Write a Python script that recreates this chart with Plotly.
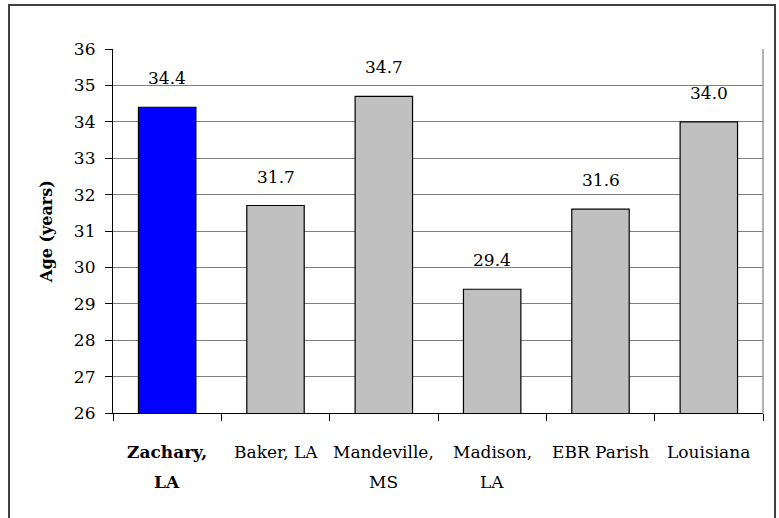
import plotly.graph_objects as go

categories = ["Zachary, LA", "Baker, LA", "Mandeville, MS", "Madison, LA", "EBR Parish", "Louisiana"]
label_line1 = ["<b>Zachary,</b>", "Baker, LA", "Mandeville,", "Madison,", "EBR Parish", "Louisiana"]
label_line2 = ["<b>LA</b>", "", "MS", "LA", "", ""]
ages = [34.4, 31.7, 34.7, 29.4, 31.6, 34.0]
bar_colors = ["#0000FF", "#C0C0C0", "#C0C0C0", "#C0C0C0", "#C0C0C0", "#C0C0C0"]
y_ticks = list(range(26, 37))

FONT = "DejaVu Serif"
FS = 17

fig = go.Figure()
fig.add_trace(go.Bar(
    x=categories, y=ages,
    marker=dict(color=bar_colors, line=dict(color="black", width=1.2)),
    width=0.53, hoverinfo="skip",
))

annotations = []
for c, v in zip(categories, ages):
    annotations.append(dict(x=c, y=v, xref="x", yref="y", text=f"{v:.1f}",
                            showarrow=False, yanchor="bottom", yshift=17,
                            font=dict(family=FONT, size=FS, color="black")))
for c, l1, l2 in zip(categories, label_line1, label_line2):
    annotations.append(dict(x=c, y=0, xref="x", yref="paper", text=l1,
                            showarrow=False, yanchor="middle", yshift=-39,
                            font=dict(family=FONT, size=FS, color="black")))
    if l2:
        annotations.append(dict(x=c, y=0, xref="x", yref="paper", text=l2,
                                showarrow=False, yanchor="middle", yshift=-69,
                                font=dict(family=FONT, size=FS, color="black")))

fig.update_layout(
    width=779, height=518,
    margin=dict(l=113, r=16, t=49, b=105),
    paper_bgcolor="white", plot_bgcolor="white",
    showlegend=False,
    bargap=0.47,
    annotations=annotations,
    font=dict(family=FONT, size=FS, color="black"),
    shapes=[
        dict(type="line", xref="paper", yref="paper", x0=1, x1=1, y0=0, y1=1,
             line=dict(color="#808080", width=1.2)),
        dict(type="rect", xref="paper", yref="paper", x0=-0.16, x1=1.0185,
             y0=-0.3, y1=1.1209, line=dict(color="#404040", width=2)),
    ],
)
fig.update_xaxes(
    showticklabels=False, showline=True, linecolor="black", linewidth=1.2,
    ticks="outside", tickson="boundaries", ticklen=7, tickcolor="black",
    showgrid=False,
)
fig.update_yaxes(
    range=[26, 36], tickvals=y_ticks, showline=True, linecolor="black", linewidth=1.2,
    ticks="outside", ticklen=7, tickcolor="black", ticklabelstandoff=6,
    showgrid=True, gridcolor="#808080", gridwidth=1.2,
    tickfont=dict(family=FONT, size=FS, color="black"),
    title=dict(text="<b>Age (years)</b>", font=dict(family=FONT, size=16, color="black"), standoff=17),
    zeroline=False,
)

fig.write_html("out.html", config={"displayModeBar": False},
               post_script="document.body.style.margin='0';")
